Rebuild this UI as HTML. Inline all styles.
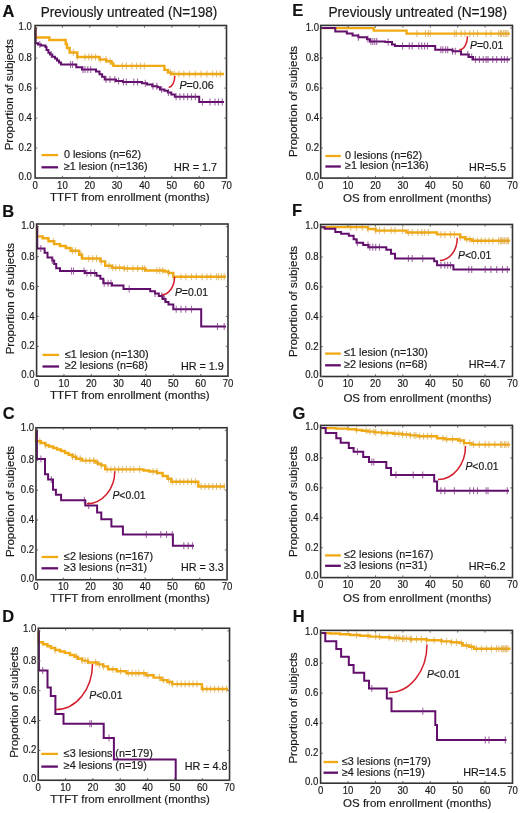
<!DOCTYPE html><html><head><meta charset="utf-8"><style>html,body{margin:0;padding:0;background:#fff;}svg{display:block;filter:blur(0.35px);}text{font-family:"Liberation Sans", sans-serif;stroke:#1a1a1a;stroke-width:0.18px;}</style></head><body>
<svg width="520" height="813" viewBox="0 0 520 813">
<rect width="520" height="813" fill="#fff"/>
<g><path d="M35.1 28.2H35.6V37.5H49.4V40H65.7V44H67V48H69.6V52.5H77.3V57H99.5V59.5H106.4V61.2H111.6V63.5H113.4V65.9H164.4V69.9H167.9V72.5H171.3V74H224" fill="none" stroke="#F2AA12" stroke-width="2.4" stroke-linejoin="miter"/><path d="M35.1 28.2H35.6V43.2H38V44.5H41V45.5H45.5V47H46.5V50H48.4V52.8H50V54.5H52.3V56.7H55V58.5H57V60.5H59V62.5H61V64.4H76.3V67.3H82V69.4H96V71.6H99.5V74.2H102.1V76.8H104.7V79.4H116V81.1H122.9V82H141.9V83.2H147.1V84.6H152.3V86.3H157.5V87.2H160V89.4H164.4V90.7H167.9V92.4H171.3V94.6H174.8V96.7H199.2V101.9H224" fill="none" stroke="#620E6C" stroke-width="2.0" stroke-linejoin="miter"/><path d="M73.4 49v7M77.3 53.5v7M85 53.5v7M88.8 53.5v7M91.7 53.5v7M95.5 53.5v7M100.3 56v7M106 56v7M110 57.7v7M122.5 62.4v7M126.3 62.4v7M131.8 62.4v7M136.7 62.4v7M140.5 62.4v7M144.3 62.4v7M170.3 69v7M174.2 70.5v7M179 70.5v7M183.8 70.5v7M189.5 70.5v7M195.3 70.5v7M201 70.5v7M206.8 70.5v7M212.6 70.5v7M216.5 70.5v7M220.3 70.5v7" stroke="rgba(215,160,60,0.65)" stroke-width="1.1"/><path d="M39.8 41v7M51.3 51v7M70.5 60.9v7M72.5 60.9v7M83 65.9v7M85 65.9v7M87.8 65.9v7M90.7 65.9v7M106.1 75.9v7M110 75.9v7M114.8 75.9v7M118.6 77.6v7M123.4 78.5v7M126.3 78.5v7M133.8 78.5v7M137.6 78.5v7M145.3 79.7v7M153 82.8v7M156.8 82.8v7M161.7 85.9v7M168.4 88.9v7M176.1 93.2v7M179.9 93.2v7M183.8 93.2v7M187.6 93.2v7M191.5 93.2v7M195.3 93.2v7M202.5 98.4v7M210 98.4v7M215 98.4v7M218.4 98.4v7M222.2 98.4v7" stroke="rgba(120,40,125,0.7)" stroke-width="1.1"/><path d="M174.8 76A6.1 11.2 0 0 1 168.7 87.2" fill="none" stroke="#D41E2E" stroke-width="1.5"/><rect x="35.1" y="25.5" width="191.4" height="152.5" fill="none" stroke="#333" stroke-width="1.6"/><path d="M62.44 178v-2.2M62.44 25.5v2.2M89.79 178v-2.2M89.79 25.5v2.2M117.13 178v-2.2M117.13 25.5v2.2M144.47 178v-2.2M144.47 25.5v2.2M171.81 178v-2.2M171.81 25.5v2.2M199.16 178v-2.2M199.16 25.5v2.2M35.1 178h2.2M226.5 178h-2.2M35.1 148.04h2.2M226.5 148.04h-2.2M35.1 118.08h2.2M226.5 118.08h-2.2M35.1 88.12h2.2M226.5 88.12h-2.2M35.1 58.16h2.2M226.5 58.16h-2.2M35.1 28.2h2.2M226.5 28.2h-2.2" stroke="#555" stroke-width="0.9"/><text transform="translate(31.9 179.8) scale(0.915 1)" font-size="10.5" text-anchor="end" fill="#1a1a1a">0.0</text><text transform="translate(31.9 151.14) scale(0.915 1)" font-size="10.5" text-anchor="end" fill="#1a1a1a">0.2</text><text transform="translate(31.9 121.18) scale(0.915 1)" font-size="10.5" text-anchor="end" fill="#1a1a1a">0.4</text><text transform="translate(31.9 91.22) scale(0.915 1)" font-size="10.5" text-anchor="end" fill="#1a1a1a">0.6</text><text transform="translate(31.9 61.26) scale(0.915 1)" font-size="10.5" text-anchor="end" fill="#1a1a1a">0.8</text><text transform="translate(31.9 30.2) scale(0.915 1)" font-size="10.5" text-anchor="end" fill="#1a1a1a">1.0</text><text transform="translate(35.1 188.6) scale(0.915 1)" font-size="10.5" text-anchor="middle" fill="#1a1a1a">0</text><text transform="translate(62.44 188.6) scale(0.915 1)" font-size="10.5" text-anchor="middle" fill="#1a1a1a">10</text><text transform="translate(89.79 188.6) scale(0.915 1)" font-size="10.5" text-anchor="middle" fill="#1a1a1a">20</text><text transform="translate(117.13 188.6) scale(0.915 1)" font-size="10.5" text-anchor="middle" fill="#1a1a1a">30</text><text transform="translate(144.47 188.6) scale(0.915 1)" font-size="10.5" text-anchor="middle" fill="#1a1a1a">40</text><text transform="translate(171.81 188.6) scale(0.915 1)" font-size="10.5" text-anchor="middle" fill="#1a1a1a">50</text><text transform="translate(199.16 188.6) scale(0.915 1)" font-size="10.5" text-anchor="middle" fill="#1a1a1a">60</text><text transform="translate(226.5 188.6) scale(0.915 1)" font-size="10.5" text-anchor="middle" fill="#1a1a1a">70</text><path d="M41.5 155.1H58.1" stroke="#F2AA12" stroke-width="2.3"/><path d="M41.5 167.3H58.1" stroke="#620E6C" stroke-width="2.3"/><text x="63.9" y="157.8" font-size="10.8" fill="#1a1a1a">0 lesions (n=62)</text><text x="63.9" y="170" font-size="10.8" fill="#1a1a1a">≥1 lesion (n=136)</text><text x="217" y="171.2" font-size="10.8" text-anchor="end" fill="#1a1a1a">HR = 1.7</text><text x="179.4" y="88.6" font-size="10.75" fill="#1a1a1a"><tspan font-style="italic">P</tspan>=0.06</text><text x="0" y="0" font-size="11.5" text-anchor="middle" fill="#1a1a1a" transform="translate(8.6 94.7) rotate(-90)" dy="4">Proportion of subjects</text><text x="50.1" y="201" font-size="11.5" fill="#1a1a1a">TTFT from enrollment (months)</text><text x="2.4" y="16.9" font-size="16.5" font-weight="bold" fill="#111">A</text></g>
<g><path d="M36.6 226.7H37V236.4H42.7V238.3H48.5V241.2H54.2V244.1H60V246H65.8V248H70.6V250.8H79.2V254.7H82.1V258.5H100.4V261.4H105.2V265.8H112V267.8H123.5V268.5H145.4V270.5H164.6V271.5H168.5V273H173.3V276.8H226" fill="none" stroke="#F2AA12" stroke-width="2.4" stroke-linejoin="miter"/><path d="M36.6 226.7H37.2V248.5H44.6V252.8H47.5V257.6H52.3V260.5H54.2V264H56.2V268.2H60V271H85V273H96.5V275.8H100.4V278.7H103.3V283.2H112V285.5H123.5V289H150.2V291.2H155V293.5H158.8V296H162.7V299H165.6V302H168.5V304.4H173.3V309.2H201.2V326.5H226" fill="none" stroke="#620E6C" stroke-width="2.0" stroke-linejoin="miter"/><path d="M53.3 237.7v7M72.5 247.3v7M75.4 247.3v7M81.2 251.2v7M88.8 255v7M92.7 255v7M96.5 255v7M101.3 257.9v7M109 262.3v7M112.9 264.3v7M115.8 264.3v7M119.6 264.3v7M124.4 265v7M127.3 265v7M132.9 265v7M137.7 265v7M142.5 265v7M144.4 265v7M156.9 267v7M159.8 267v7M162.7 267v7M168.5 269.5v7M173.3 273.3v7M181 273.3v7M185.8 273.3v7M191.5 273.3v7M196.3 273.3v7M202.1 273.3v7M206.9 273.3v7M210.8 273.3v7M216.5 273.3v7M218.5 273.3v7M221.3 273.3v7M224.2 273.3v7" stroke="rgba(215,160,60,0.65)" stroke-width="1.1"/><path d="M40.8 245v7M52.3 257v7M71.5 267.5v7M73.5 267.5v7M84 267.5v7M86.9 269.5v7M90.8 269.5v7M94.6 269.5v7M104.2 279.7v7M108.1 279.7v7M111 279.7v7M129.2 285.5v7M155 290v7M161.7 292.5v7M164.6 295.5v7M176.2 305.7v7M181 305.7v7M185.8 305.7v7M191.5 305.7v7M217.5 323v7M224.2 323v7" stroke="rgba(120,40,125,0.7)" stroke-width="1.1"/><path d="M174.6 276.8A12.9 17.9 0 0 1 161.7 294.7" fill="none" stroke="#D41E2E" stroke-width="1.5"/><rect x="36.6" y="224" width="191.4" height="152.2" fill="none" stroke="#333" stroke-width="1.6"/><path d="M63.94 376.2v-2.2M63.94 224v2.2M91.29 376.2v-2.2M91.29 224v2.2M118.63 376.2v-2.2M118.63 224v2.2M145.97 376.2v-2.2M145.97 224v2.2M173.31 376.2v-2.2M173.31 224v2.2M200.66 376.2v-2.2M200.66 224v2.2M36.6 376.2h2.2M228 376.2h-2.2M36.6 346.3h2.2M228 346.3h-2.2M36.6 316.4h2.2M228 316.4h-2.2M36.6 286.5h2.2M228 286.5h-2.2M36.6 256.6h2.2M228 256.6h-2.2M36.6 226.7h2.2M228 226.7h-2.2" stroke="#555" stroke-width="0.9"/><text transform="translate(34.6 378) scale(0.915 1)" font-size="10.5" text-anchor="end" fill="#1a1a1a">0.0</text><text transform="translate(34.6 349.4) scale(0.915 1)" font-size="10.5" text-anchor="end" fill="#1a1a1a">0.2</text><text transform="translate(34.6 319.5) scale(0.915 1)" font-size="10.5" text-anchor="end" fill="#1a1a1a">0.4</text><text transform="translate(34.6 289.6) scale(0.915 1)" font-size="10.5" text-anchor="end" fill="#1a1a1a">0.6</text><text transform="translate(34.6 259.7) scale(0.915 1)" font-size="10.5" text-anchor="end" fill="#1a1a1a">0.8</text><text transform="translate(34.6 228.5) scale(0.915 1)" font-size="10.5" text-anchor="end" fill="#1a1a1a">1.0</text><text transform="translate(36.6 386.8) scale(0.915 1)" font-size="10.5" text-anchor="middle" fill="#1a1a1a">0</text><text transform="translate(63.94 386.8) scale(0.915 1)" font-size="10.5" text-anchor="middle" fill="#1a1a1a">10</text><text transform="translate(91.29 386.8) scale(0.915 1)" font-size="10.5" text-anchor="middle" fill="#1a1a1a">20</text><text transform="translate(118.63 386.8) scale(0.915 1)" font-size="10.5" text-anchor="middle" fill="#1a1a1a">30</text><text transform="translate(145.97 386.8) scale(0.915 1)" font-size="10.5" text-anchor="middle" fill="#1a1a1a">40</text><text transform="translate(173.31 386.8) scale(0.915 1)" font-size="10.5" text-anchor="middle" fill="#1a1a1a">50</text><text transform="translate(200.66 386.8) scale(0.915 1)" font-size="10.5" text-anchor="middle" fill="#1a1a1a">60</text><text transform="translate(228 386.8) scale(0.915 1)" font-size="10.5" text-anchor="middle" fill="#1a1a1a">70</text><path d="M42.5 354.9H59.1" stroke="#F2AA12" stroke-width="2.3"/><path d="M42.5 366.5H59.1" stroke="#620E6C" stroke-width="2.3"/><text x="64.9" y="357.6" font-size="10.8" fill="#1a1a1a">≤1 lesion (n=130)</text><text x="64.9" y="369.2" font-size="10.8" fill="#1a1a1a">≥2 lesions (n=68)</text><text x="223.8" y="369.7" font-size="10.8" text-anchor="end" fill="#1a1a1a">HR = 1.9</text><text x="174.9" y="296" font-size="10.4" fill="#1a1a1a"><tspan font-style="italic">P</tspan>=0.01</text><text x="0" y="0" font-size="11.5" text-anchor="middle" fill="#1a1a1a" transform="translate(10.3 298.7) rotate(-90)" dy="4">Proportion of subjects</text><text x="50.1" y="399" font-size="11.5" fill="#1a1a1a">TTFT from enrollment (months)</text><text x="2.3" y="216.9" font-size="16.5" font-weight="bold" fill="#111">B</text></g>
<g><path d="M35.95 430.45H36.1V441.3H41V443H45.5V445.2H49V446.5H53.2V448H57V449.5H61V451H65V453H68.6V454.8H72.5V456.8H76.3V458.7H82V460.6H95.5V462.5H98V464H101.3V465.4H105.2V469.4H143.5V470.5H149.2V471.5H157V473H162.7V476H167.5V478.8H171.3V481.7H198.3V486.5H225" fill="none" stroke="#F2AA12" stroke-width="2.4" stroke-linejoin="miter"/><path d="M35.95 430.45H36.9V459H45V474.2H48.1V479.4H53V489.8H55.9V494.8H61.1V500.2H85.3V505.6H97.1V512.5H101.3V519.2H111.4V526.4H122.9V534.4H172.9V545.8H194" fill="none" stroke="#620E6C" stroke-width="2.0" stroke-linejoin="miter"/><path d="M39.8 437.8v7M45.5 441.7v7M72.5 453.3v7M75.3 453.3v7M80.2 455.2v7M85.9 457.1v7M89.8 457.1v7M93.6 457.1v7M97.5 459v7M101.3 461.9v7M107.1 465.9v7M110.9 465.9v7M114.8 465.9v7M118.6 465.9v7M122.5 465.9v7M126.3 465.9v7M130.2 465.9v7M133.8 465.9v7M139.6 465.9v7M153.1 468v7M156.9 468v7M168.5 475.3v7M172.3 478.2v7M176.2 478.2v7M180 478.2v7M183.8 478.2v7M187.7 478.2v7M191.5 478.2v7M195.4 478.2v7M201.2 483v7M205 483v7M208.8 483v7M212.7 483v7M216.5 483v7M220.4 483v7M224.2 483v7" stroke="rgba(215,160,60,0.65)" stroke-width="1.1"/><path d="M40.9 455.5v7M51.3 475.9v7M84.3 496.7v7M88.7 502.1v7M146.3 530.9v7M160.8 530.9v7M166.5 530.9v7M172.3 530.9v7M183.8 542.3v7M188.2 542.3v7M192.5 542.3v7" stroke="rgba(120,40,125,0.7)" stroke-width="1.1"/><path d="M114.8 471.2A27.9 32.5 0 0 1 86.9 503.7" fill="none" stroke="#D41E2E" stroke-width="1.5"/><rect x="35.95" y="427.75" width="191.1" height="152" fill="none" stroke="#333" stroke-width="1.6"/><path d="M63.25 579.75v-2.2M63.25 427.75v2.2M90.55 579.75v-2.2M90.55 427.75v2.2M117.85 579.75v-2.2M117.85 427.75v2.2M145.15 579.75v-2.2M145.15 427.75v2.2M172.45 579.75v-2.2M172.45 427.75v2.2M199.75 579.75v-2.2M199.75 427.75v2.2M35.95 579.75h2.2M227.05 579.75h-2.2M35.95 549.89h2.2M227.05 549.89h-2.2M35.95 520.03h2.2M227.05 520.03h-2.2M35.95 490.17h2.2M227.05 490.17h-2.2M35.95 460.31h2.2M227.05 460.31h-2.2M35.95 430.45h2.2M227.05 430.45h-2.2" stroke="#555" stroke-width="0.9"/><text transform="translate(34.15 581.55) scale(0.915 1)" font-size="10.5" text-anchor="end" fill="#1a1a1a">0.0</text><text transform="translate(34.15 552.99) scale(0.915 1)" font-size="10.5" text-anchor="end" fill="#1a1a1a">0.2</text><text transform="translate(34.15 523.13) scale(0.915 1)" font-size="10.5" text-anchor="end" fill="#1a1a1a">0.4</text><text transform="translate(34.15 493.27) scale(0.915 1)" font-size="10.5" text-anchor="end" fill="#1a1a1a">0.6</text><text transform="translate(34.15 463.41) scale(0.915 1)" font-size="10.5" text-anchor="end" fill="#1a1a1a">0.8</text><text transform="translate(34.15 430.6) scale(0.915 1)" font-size="10.5" text-anchor="end" fill="#1a1a1a">1.0</text><text transform="translate(35.95 590.35) scale(0.915 1)" font-size="10.5" text-anchor="middle" fill="#1a1a1a">0</text><text transform="translate(63.25 590.35) scale(0.915 1)" font-size="10.5" text-anchor="middle" fill="#1a1a1a">10</text><text transform="translate(90.55 590.35) scale(0.915 1)" font-size="10.5" text-anchor="middle" fill="#1a1a1a">20</text><text transform="translate(117.85 590.35) scale(0.915 1)" font-size="10.5" text-anchor="middle" fill="#1a1a1a">30</text><text transform="translate(145.15 590.35) scale(0.915 1)" font-size="10.5" text-anchor="middle" fill="#1a1a1a">40</text><text transform="translate(172.45 590.35) scale(0.915 1)" font-size="10.5" text-anchor="middle" fill="#1a1a1a">50</text><text transform="translate(199.75 590.35) scale(0.915 1)" font-size="10.5" text-anchor="middle" fill="#1a1a1a">60</text><text transform="translate(227.05 590.35) scale(0.915 1)" font-size="10.5" text-anchor="middle" fill="#1a1a1a">70</text><path d="M41.5 557H58.1" stroke="#F2AA12" stroke-width="2.3"/><path d="M41.5 568.3H58.1" stroke="#620E6C" stroke-width="2.3"/><text x="64" y="559.7" font-size="10.8" fill="#1a1a1a">≤2 lesions (n=167)</text><text x="64" y="571" font-size="10.8" fill="#1a1a1a">≥3 lesions (n=31)</text><text x="223.9" y="571.3" font-size="10.8" text-anchor="end" fill="#1a1a1a">HR = 3.3</text><text x="112.4" y="499.3" font-size="10.4" fill="#1a1a1a"><tspan font-style="italic">P</tspan>&lt;0.01</text><text x="0" y="0" font-size="11.5" text-anchor="middle" fill="#1a1a1a" transform="translate(9.8 501.5) rotate(-90)" dy="4">Proportion of subjects</text><text x="50.2" y="602.3" font-size="11.5" fill="#1a1a1a">TTFT from enrollment (months)</text><text x="2.8" y="418.9" font-size="16.5" font-weight="bold" fill="#111">C</text></g>
<g><path d="M38.25 630.95H38.7V642.3H43V644.2H47.5V646.2H51V648H55.2V650H60V651.5H64.8V652.9H70V655H74.5V656.8H78V658.7H82.2V660.6H88V662.5H97.5V664.4H103.3V666.4H108.1V669.3H116.8V671.2H126.4V673.2H145.7V675.2H153.6V677.6H161.5V680.1H167.4V682H172.3V684.1H201.9V689H228" fill="none" stroke="#F2AA12" stroke-width="2.4" stroke-linejoin="miter"/><path d="M38.25 630.95H38.9V670.4H47.5V687.5H50.8V696H55.4V714H63.5V723.7H103.7V738.1H113.9V759.4H175.7V780.4" fill="none" stroke="#620E6C" stroke-width="2.0" stroke-linejoin="miter"/><path d="M55.2 646.5v7M76.4 653.3v7M82.2 657.1v7M85 657.1v7M87.9 657.1v7M95.6 659v7M99.5 660.9v7M103.3 662.9v7M112.9 665.8v7M120.6 667.7v7M128.3 669.7v7M132.2 669.7v7M135.9 669.7v7M138.9 669.7v7M143.8 669.7v7M147.7 671.7v7M159.5 674.1v7M163.5 676.6v7M169.4 678.5v7M172.3 680.6v7M177.2 680.6v7M181.2 680.6v7M185.1 680.6v7M189.1 680.6v7M193 680.6v7M196.9 680.6v7M202.8 685.5v7M206.8 685.5v7M210.7 685.5v7M214.6 685.5v7M218.6 685.5v7M222.5 685.5v7M226.5 685.5v7" stroke="rgba(215,160,60,0.65)" stroke-width="1.1"/><path d="M42.7 666.9v7M89.8 720.2v7M91.5 720.2v7M109 734.6v7" stroke="rgba(120,40,125,0.7)" stroke-width="1.1"/><path d="M92.5 664A36.7 45.6 0 0 1 55.8 709.6" fill="none" stroke="#D41E2E" stroke-width="1.5"/><rect x="38.25" y="628.25" width="191.3" height="152" fill="none" stroke="#333" stroke-width="1.6"/><path d="M65.58 780.25v-2.2M65.58 628.25v2.2M92.91 780.25v-2.2M92.91 628.25v2.2M120.24 780.25v-2.2M120.24 628.25v2.2M147.56 780.25v-2.2M147.56 628.25v2.2M174.89 780.25v-2.2M174.89 628.25v2.2M202.22 780.25v-2.2M202.22 628.25v2.2M38.25 780.25h2.2M229.55 780.25h-2.2M38.25 750.39h2.2M229.55 750.39h-2.2M38.25 720.53h2.2M229.55 720.53h-2.2M38.25 690.67h2.2M229.55 690.67h-2.2M38.25 660.81h2.2M229.55 660.81h-2.2M38.25 630.95h2.2M229.55 630.95h-2.2" stroke="#555" stroke-width="0.9"/><text transform="translate(36.25 782.05) scale(0.915 1)" font-size="10.5" text-anchor="end" fill="#1a1a1a">0.0</text><text transform="translate(36.25 753.49) scale(0.915 1)" font-size="10.5" text-anchor="end" fill="#1a1a1a">0.2</text><text transform="translate(36.25 723.63) scale(0.915 1)" font-size="10.5" text-anchor="end" fill="#1a1a1a">0.4</text><text transform="translate(36.25 693.77) scale(0.915 1)" font-size="10.5" text-anchor="end" fill="#1a1a1a">0.6</text><text transform="translate(36.25 663.91) scale(0.915 1)" font-size="10.5" text-anchor="end" fill="#1a1a1a">0.8</text><text transform="translate(36.25 631.8) scale(0.915 1)" font-size="10.5" text-anchor="end" fill="#1a1a1a">1.0</text><text transform="translate(38.25 790.85) scale(0.915 1)" font-size="10.5" text-anchor="middle" fill="#1a1a1a">0</text><text transform="translate(65.58 790.85) scale(0.915 1)" font-size="10.5" text-anchor="middle" fill="#1a1a1a">10</text><text transform="translate(92.91 790.85) scale(0.915 1)" font-size="10.5" text-anchor="middle" fill="#1a1a1a">20</text><text transform="translate(120.24 790.85) scale(0.915 1)" font-size="10.5" text-anchor="middle" fill="#1a1a1a">30</text><text transform="translate(147.56 790.85) scale(0.915 1)" font-size="10.5" text-anchor="middle" fill="#1a1a1a">40</text><text transform="translate(174.89 790.85) scale(0.915 1)" font-size="10.5" text-anchor="middle" fill="#1a1a1a">50</text><text transform="translate(202.22 790.85) scale(0.915 1)" font-size="10.5" text-anchor="middle" fill="#1a1a1a">60</text><text transform="translate(229.55 790.85) scale(0.915 1)" font-size="10.5" text-anchor="middle" fill="#1a1a1a">70</text><path d="M41.3 753.9H57.9" stroke="#F2AA12" stroke-width="2.3"/><path d="M41.3 766.6H57.9" stroke="#620E6C" stroke-width="2.3"/><text x="63.8" y="756.6" font-size="10.8" fill="#1a1a1a">≤3 lesions (n=179)</text><text x="63.8" y="769.3" font-size="10.8" fill="#1a1a1a">≥4 lesions (n=19)</text><text x="227.6" y="770.2" font-size="10.8" text-anchor="end" fill="#1a1a1a">HR = 4.8</text><text x="89.2" y="699.4" font-size="10.4" fill="#1a1a1a"><tspan font-style="italic">P</tspan>&lt;0.01</text><text x="0" y="0" font-size="11.5" text-anchor="middle" fill="#1a1a1a" transform="translate(13.6 702.2) rotate(-90)" dy="4">Proportion of subjects</text><text x="50.2" y="802.9" font-size="11.5" fill="#1a1a1a">TTFT from enrollment (months)</text><text x="2.3" y="621.8" font-size="16.5" font-weight="bold" fill="#111">D</text></g>
<g><path d="M320.7 28.1H373.8V30.6H406.5V33.6H510" fill="none" stroke="#F2AA12" stroke-width="2.4" stroke-linejoin="miter"/><path d="M320.7 28.1H335.3V31.5H346.8V33.5H352.6V35.4H358.4V37.3H367V39.2H370V41.5H385.3V42.1H392V44.6H394.9V46H435.2V49.8H452.5V51.2H461V54.4H468.8V56.9H473V59.4H510" fill="none" stroke="#620E6C" stroke-width="2.0" stroke-linejoin="miter"/><path d="M416.9 30.1v7M425.5 30.1v7M428.4 30.1v7M430.3 30.1v7M454.4 30.1v7M456.3 30.1v7M461.1 30.1v7M465 30.1v7M469.8 30.1v7M473.6 30.1v7M477.5 30.1v7M486.1 30.1v7M490.9 30.1v7M498.6 30.1v7M500.5 30.1v7M501.5 30.1v7M503.4 30.1v7M505 30.1v7M506.3 30.1v7M508 30.1v7" stroke="rgba(215,160,60,0.65)" stroke-width="1.1"/><path d="M358.4 33.8v7M368 35.7v7M370.9 38v7M372.8 38v7M374.7 38v7M376.7 38v7M388.2 38.6v7M402.6 42.5v7M409.3 42.5v7M412.2 42.5v7M418.8 42.5v7M421.7 42.5v7M424.6 42.5v7M427.5 42.5v7M440.9 46.3v7M442.8 46.3v7M445.7 46.3v7M447.7 46.3v7M452.5 47.7v7M455.3 47.7v7M467.8 50.9v7M471.7 53.4v7M475.5 55.9v7M479.4 55.9v7M483.2 55.9v7M486.1 55.9v7M488 55.9v7M492.8 55.9v7M496.7 55.9v7M501.5 55.9v7M504.4 55.9v7M507.3 55.9v7" stroke="rgba(120,40,125,0.7)" stroke-width="1.1"/><path d="M467.5 36.3A8.3 13.5 0 0 1 459.2 49.8" fill="none" stroke="#D41E2E" stroke-width="1.5"/><rect x="320.7" y="25.4" width="191.8" height="152.7" fill="none" stroke="#333" stroke-width="1.6"/><path d="M348.1 178.1v-2.2M348.1 25.4v2.2M375.5 178.1v-2.2M375.5 25.4v2.2M402.9 178.1v-2.2M402.9 25.4v2.2M430.3 178.1v-2.2M430.3 25.4v2.2M457.7 178.1v-2.2M457.7 25.4v2.2M485.1 178.1v-2.2M485.1 25.4v2.2M320.7 178.1h2.2M512.5 178.1h-2.2M320.7 148.1h2.2M512.5 148.1h-2.2M320.7 118.1h2.2M512.5 118.1h-2.2M320.7 88.1h2.2M512.5 88.1h-2.2M320.7 58.1h2.2M512.5 58.1h-2.2M320.7 28.1h2.2M512.5 28.1h-2.2" stroke="#555" stroke-width="0.9"/><text transform="translate(319 179.9) scale(0.915 1)" font-size="10.5" text-anchor="end" fill="#1a1a1a">0.0</text><text transform="translate(319 151.2) scale(0.915 1)" font-size="10.5" text-anchor="end" fill="#1a1a1a">0.2</text><text transform="translate(319 121.2) scale(0.915 1)" font-size="10.5" text-anchor="end" fill="#1a1a1a">0.4</text><text transform="translate(319 91.2) scale(0.915 1)" font-size="10.5" text-anchor="end" fill="#1a1a1a">0.6</text><text transform="translate(319 61.2) scale(0.915 1)" font-size="10.5" text-anchor="end" fill="#1a1a1a">0.8</text><text transform="translate(319 31.1) scale(0.915 1)" font-size="10.5" text-anchor="end" fill="#1a1a1a">1.0</text><text transform="translate(320.7 188.7) scale(0.915 1)" font-size="10.5" text-anchor="middle" fill="#1a1a1a">0</text><text transform="translate(348.1 188.7) scale(0.915 1)" font-size="10.5" text-anchor="middle" fill="#1a1a1a">10</text><text transform="translate(375.5 188.7) scale(0.915 1)" font-size="10.5" text-anchor="middle" fill="#1a1a1a">20</text><text transform="translate(402.9 188.7) scale(0.915 1)" font-size="10.5" text-anchor="middle" fill="#1a1a1a">30</text><text transform="translate(430.3 188.7) scale(0.915 1)" font-size="10.5" text-anchor="middle" fill="#1a1a1a">40</text><text transform="translate(457.7 188.7) scale(0.915 1)" font-size="10.5" text-anchor="middle" fill="#1a1a1a">50</text><text transform="translate(485.1 188.7) scale(0.915 1)" font-size="10.5" text-anchor="middle" fill="#1a1a1a">60</text><text transform="translate(512.5 188.7) scale(0.915 1)" font-size="10.5" text-anchor="middle" fill="#1a1a1a">70</text><path d="M325.4 156H340.8" stroke="#F2AA12" stroke-width="2.3"/><path d="M325.4 166.5H340.8" stroke="#620E6C" stroke-width="2.3"/><text x="345" y="158.7" font-size="10.8" fill="#1a1a1a">0 lesions (n=62)</text><text x="345" y="169.2" font-size="10.8" fill="#1a1a1a">≥1 lesion (n=136)</text><text x="506" y="171.1" font-size="10.8" text-anchor="end" fill="#1a1a1a">HR=5.5</text><text x="470.1" y="49.3" font-size="10.4" fill="#1a1a1a"><tspan font-style="italic">P</tspan>=0.01</text><text x="0" y="0" font-size="11.5" text-anchor="middle" fill="#1a1a1a" transform="translate(292.5 101.5) rotate(-90)" dy="4">Proportion of subjects</text><text x="343.1" y="201.9" font-size="11.5" fill="#1a1a1a">OS from enrollment (months)</text><text x="292.3" y="16.4" font-size="16.5" font-weight="bold" fill="#111">E</text></g>
<g><path d="M320.6 227.15H368V229H375.7V230.6H406.5V232.5H437V234.4H460.2V237.3H465V239.2H471.7V240.8H510" fill="none" stroke="#F2AA12" stroke-width="2.4" stroke-linejoin="miter"/><path d="M320.6 227.15H324.7V228.7H335.3V231.9H341.1V233.8H348.8V235.8H353.6V239.2H356.5V242.7H363.2V245H368.4V247.3H386.3V249.8H391V253.7H395V258.5H434.2V261.3H437.1V265.2H453.4V269.6H510" fill="none" stroke="#620E6C" stroke-width="2.0" stroke-linejoin="miter"/><path d="M350.7 223.65v7M356.5 223.65v7M362.2 223.65v7M368 225.5v7M375.7 227.1v7M379.5 227.1v7M384.3 227.1v7M391.1 227.1v7M394.9 227.1v7M402.6 227.1v7M408.4 229v7M412.2 229v7M417.8 229v7M421.7 229v7M424.6 229v7M428.4 229v7M440.9 230.9v7M444.8 230.9v7M450.5 230.9v7M454.4 230.9v7M460.2 233.8v7M466.9 235.7v7M469.8 235.7v7M473.6 237.3v7M477.5 237.3v7M481.3 237.3v7M485.2 237.3v7M489 237.3v7M492.8 237.3v7M498.6 237.3v7M500.5 237.3v7M501.5 237.3v7M503 237.3v7M504.4 237.3v7M506 237.3v7M507.3 237.3v7M508.5 237.3v7" stroke="rgba(215,160,60,0.65)" stroke-width="1.1"/><path d="M357.4 239.2v7M368 241.5v7M369.9 243.8v7M372.8 243.8v7M375.7 243.8v7M379.5 243.8v7M408.4 255v7M412.2 255v7M422.7 255v7M440.9 261.7v7M444.8 261.7v7M447.7 261.7v7M450.5 261.7v7M468.8 266.1v7M471.7 266.1v7M485.2 266.1v7M490.9 266.1v7M496.7 266.1v7M502.5 266.1v7M507.3 266.1v7" stroke="rgba(120,40,125,0.7)" stroke-width="1.1"/><path d="M457.3 237.7A17.3 22.7 0 0 1 440 260.4" fill="none" stroke="#D41E2E" stroke-width="1.5"/><rect x="320.6" y="224.45" width="191.9" height="152.05" fill="none" stroke="#333" stroke-width="1.6"/><path d="M348.01 376.5v-2.2M348.01 224.45v2.2M375.43 376.5v-2.2M375.43 224.45v2.2M402.84 376.5v-2.2M402.84 224.45v2.2M430.26 376.5v-2.2M430.26 224.45v2.2M457.67 376.5v-2.2M457.67 224.45v2.2M485.09 376.5v-2.2M485.09 224.45v2.2M320.6 376.5h2.2M512.5 376.5h-2.2M320.6 346.63h2.2M512.5 346.63h-2.2M320.6 316.76h2.2M512.5 316.76h-2.2M320.6 286.89h2.2M512.5 286.89h-2.2M320.6 257.02h2.2M512.5 257.02h-2.2M320.6 227.15h2.2M512.5 227.15h-2.2" stroke="#555" stroke-width="0.9"/><text transform="translate(318.6 378.3) scale(0.915 1)" font-size="10.5" text-anchor="end" fill="#1a1a1a">0.0</text><text transform="translate(318.6 349.73) scale(0.915 1)" font-size="10.5" text-anchor="end" fill="#1a1a1a">0.2</text><text transform="translate(318.6 319.86) scale(0.915 1)" font-size="10.5" text-anchor="end" fill="#1a1a1a">0.4</text><text transform="translate(318.6 289.99) scale(0.915 1)" font-size="10.5" text-anchor="end" fill="#1a1a1a">0.6</text><text transform="translate(318.6 260.12) scale(0.915 1)" font-size="10.5" text-anchor="end" fill="#1a1a1a">0.8</text><text transform="translate(318.6 229.4) scale(0.915 1)" font-size="10.5" text-anchor="end" fill="#1a1a1a">1.0</text><text transform="translate(320.6 387.1) scale(0.915 1)" font-size="10.5" text-anchor="middle" fill="#1a1a1a">0</text><text transform="translate(348.01 387.1) scale(0.915 1)" font-size="10.5" text-anchor="middle" fill="#1a1a1a">10</text><text transform="translate(375.43 387.1) scale(0.915 1)" font-size="10.5" text-anchor="middle" fill="#1a1a1a">20</text><text transform="translate(402.84 387.1) scale(0.915 1)" font-size="10.5" text-anchor="middle" fill="#1a1a1a">30</text><text transform="translate(430.26 387.1) scale(0.915 1)" font-size="10.5" text-anchor="middle" fill="#1a1a1a">40</text><text transform="translate(457.67 387.1) scale(0.915 1)" font-size="10.5" text-anchor="middle" fill="#1a1a1a">50</text><text transform="translate(485.09 387.1) scale(0.915 1)" font-size="10.5" text-anchor="middle" fill="#1a1a1a">60</text><text transform="translate(512.5 387.1) scale(0.915 1)" font-size="10.5" text-anchor="middle" fill="#1a1a1a">70</text><path d="M325.1 353.6H340.8" stroke="#F2AA12" stroke-width="2.3"/><path d="M325.1 365.3H340.8" stroke="#620E6C" stroke-width="2.3"/><text x="344.2" y="356.3" font-size="10.8" fill="#1a1a1a">≤1 lesion (n=130)</text><text x="344.2" y="368" font-size="10.8" fill="#1a1a1a">≥2 lesions (n=68)</text><text x="505.6" y="368.2" font-size="10.8" text-anchor="end" fill="#1a1a1a">HR=4.7</text><text x="458.1" y="259" font-size="10.4" fill="#1a1a1a"><tspan font-style="italic">P</tspan>&lt;0.01</text><text x="0" y="0" font-size="11.5" text-anchor="middle" fill="#1a1a1a" transform="translate(292.8 301.5) rotate(-90)" dy="4">Proportion of subjects</text><text x="343.4" y="401.5" font-size="11.5" fill="#1a1a1a">OS from enrollment (months)</text><text x="292" y="216.4" font-size="16.5" font-weight="bold" fill="#111">F</text></g>
<g><path d="M320.6 428.1H336V428.6H348V429.3H356V430H362V430.8H368V431.6H375V432.4H383V433H393V433.7H402V434.5H410V435.4H418V436.2H437.1V438.3H444.8V439.3H458.2V440.5H464V443.1H471.7V444.6H510" fill="none" stroke="#F2AA12" stroke-width="2.4" stroke-linejoin="miter"/><path d="M320.6 428.1H325.7V433.1H336.3V438.3H340.7V442.7H348.8V447.9H353.6V451.7H363.2V456.9H369V461.9H386.3V468.1H391V475H434.2V481.5H437.1V490.8H509" fill="none" stroke="#620E6C" stroke-width="2.0" stroke-linejoin="miter"/><path d="M356.5 426.5v7M366.1 427.3v7M369.9 428.1v7M373.8 428.1v7M375.7 428.9v7M381.5 428.9v7M387.2 429.5v7M394.9 430.2v7M398.8 430.2v7M402.6 431v7M406.5 431v7M410.3 431.9v7M414.2 431.9v7M415.9 431.9v7M419.8 432.7v7M423.6 432.7v7M427.5 432.7v7M431.3 432.7v7M442.8 434.8v7M446.7 435.8v7M452.5 435.8v7M460.2 437v7M464 439.6v7M469.8 439.6v7M473.6 441.1v7M479.4 441.1v7M485.2 441.1v7M489 441.1v7M494.8 441.1v7M500.5 441.1v7M502 441.1v7M504.4 441.1v7M506 441.1v7M508.2 441.1v7" stroke="rgba(215,160,60,0.65)" stroke-width="1.1"/><path d="M357.4 448.2v7M371.8 458.4v7M373.8 458.4v7M395.9 471.5v7M413.2 471.5v7M422.7 471.5v7M440.9 487.3v7M444.8 487.3v7M454.4 487.3v7M469.8 487.3v7M473.6 487.3v7M477.5 487.3v7M486.1 487.3v7M488 487.3v7M507.3 487.3v7" stroke="rgba(120,40,125,0.7)" stroke-width="1.1"/><path d="M465.5 446A27.5 33.6 0 0 1 438 479.6" fill="none" stroke="#D41E2E" stroke-width="1.5"/><rect x="320.6" y="425.4" width="191.9" height="152.2" fill="none" stroke="#333" stroke-width="1.6"/><path d="M348.01 577.6v-2.2M348.01 425.4v2.2M375.43 577.6v-2.2M375.43 425.4v2.2M402.84 577.6v-2.2M402.84 425.4v2.2M430.26 577.6v-2.2M430.26 425.4v2.2M457.67 577.6v-2.2M457.67 425.4v2.2M485.09 577.6v-2.2M485.09 425.4v2.2M320.6 577.6h2.2M512.5 577.6h-2.2M320.6 547.7h2.2M512.5 547.7h-2.2M320.6 517.8h2.2M512.5 517.8h-2.2M320.6 487.9h2.2M512.5 487.9h-2.2M320.6 458h2.2M512.5 458h-2.2M320.6 428.1h2.2M512.5 428.1h-2.2" stroke="#555" stroke-width="0.9"/><text transform="translate(318.6 579.4) scale(0.915 1)" font-size="10.5" text-anchor="end" fill="#1a1a1a">0.0</text><text transform="translate(318.6 550.8) scale(0.915 1)" font-size="10.5" text-anchor="end" fill="#1a1a1a">0.2</text><text transform="translate(318.6 520.9) scale(0.915 1)" font-size="10.5" text-anchor="end" fill="#1a1a1a">0.4</text><text transform="translate(318.6 491) scale(0.915 1)" font-size="10.5" text-anchor="end" fill="#1a1a1a">0.6</text><text transform="translate(318.6 461.1) scale(0.915 1)" font-size="10.5" text-anchor="end" fill="#1a1a1a">0.8</text><text transform="translate(318.6 430.1) scale(0.915 1)" font-size="10.5" text-anchor="end" fill="#1a1a1a">1.0</text><text transform="translate(320.6 588.2) scale(0.915 1)" font-size="10.5" text-anchor="middle" fill="#1a1a1a">0</text><text transform="translate(348.01 588.2) scale(0.915 1)" font-size="10.5" text-anchor="middle" fill="#1a1a1a">10</text><text transform="translate(375.43 588.2) scale(0.915 1)" font-size="10.5" text-anchor="middle" fill="#1a1a1a">20</text><text transform="translate(402.84 588.2) scale(0.915 1)" font-size="10.5" text-anchor="middle" fill="#1a1a1a">30</text><text transform="translate(430.26 588.2) scale(0.915 1)" font-size="10.5" text-anchor="middle" fill="#1a1a1a">40</text><text transform="translate(457.67 588.2) scale(0.915 1)" font-size="10.5" text-anchor="middle" fill="#1a1a1a">50</text><text transform="translate(485.09 588.2) scale(0.915 1)" font-size="10.5" text-anchor="middle" fill="#1a1a1a">60</text><text transform="translate(512.5 588.2) scale(0.915 1)" font-size="10.5" text-anchor="middle" fill="#1a1a1a">70</text><path d="M325.1 555.4H340.8" stroke="#F2AA12" stroke-width="2.3"/><path d="M325.1 565.8H340.8" stroke="#620E6C" stroke-width="2.3"/><text x="344.2" y="558.1" font-size="10.8" fill="#1a1a1a">≤2 lesions (n=167)</text><text x="344.2" y="568.5" font-size="10.8" fill="#1a1a1a">≥3 lesions (n=31)</text><text x="505.6" y="569.5" font-size="10.8" text-anchor="end" fill="#1a1a1a">HR=6.2</text><text x="465.4" y="470.1" font-size="10.4" fill="#1a1a1a"><tspan font-style="italic">P</tspan>&lt;0.01</text><text x="0" y="0" font-size="11.5" text-anchor="middle" fill="#1a1a1a" transform="translate(292.8 501.5) rotate(-90)" dy="4">Proportion of subjects</text><text x="343.1" y="601.9" font-size="11.5" fill="#1a1a1a">OS from enrollment (months)</text><text x="292.4" y="419.2" font-size="16.5" font-weight="bold" fill="#111">G</text></g>
<g><path d="M320.6 633.1H330V633.5H340V634.2H350V635H360V635.8H370V636.6H380V637.3H390V638H400V638.6H410V639.2H426.5V640.3H441.5V641.4H451V642.2H459.4V643.1H462.7V645.5H469.2V646.8H474V648.8H510.5" fill="none" stroke="#F2AA12" stroke-width="2.4" stroke-linejoin="miter"/><path d="M320.6 633.1H325.3V641.3H336.3V649H341.1V656.7H348.8V665H353.6V672.7H364.2V680.8H369V688.5H386.8V698.5H391.5V711.3H435.3V725H437V740H506.5" fill="none" stroke="#620E6C" stroke-width="2.0" stroke-linejoin="miter"/><path d="M356.5 631.5v7M368 632.3v7M375.7 633.1v7M379.5 633.1v7M394.9 634.5v7M398.8 634.5v7M402.6 635.1v7M406.5 635.1v7M410.3 635.7v7M389 633.8v7M396.5 634.5v7M404 635.1v7M411.5 635.7v7M416.5 635.7v7M421.5 635.7v7M426.5 636.8v7M434 636.8v7M441.5 637.9v7M446.5 637.9v7M451.5 638.7v7M456.5 638.7v7M461.5 639.6v7M466.5 642v7M471.5 643.3v7M476.5 645.3v7M481.5 645.3v7M486.5 645.3v7M491.5 645.3v7M496.5 645.3v7M499 645.3v7M501.5 645.3v7M503 645.3v7M504 645.3v7M505.5 645.3v7M506.5 645.3v7M508 645.3v7" stroke="rgba(215,160,60,0.65)" stroke-width="1.1"/><path d="M371.8 685v7M422.8 707.8v7M485.3 736.5v7M489 736.5v7M505.3 736.5v7" stroke="rgba(120,40,125,0.7)" stroke-width="1.1"/><path d="M427 644.5A38 48 0 0 1 389 692.5" fill="none" stroke="#D41E2E" stroke-width="1.5"/><rect x="320.6" y="630.4" width="191.9" height="152.8" fill="none" stroke="#333" stroke-width="1.6"/><path d="M348.01 783.2v-2.2M348.01 630.4v2.2M375.43 783.2v-2.2M375.43 630.4v2.2M402.84 783.2v-2.2M402.84 630.4v2.2M430.26 783.2v-2.2M430.26 630.4v2.2M457.67 783.2v-2.2M457.67 630.4v2.2M485.09 783.2v-2.2M485.09 630.4v2.2M320.6 783.2h2.2M512.5 783.2h-2.2M320.6 753.18h2.2M512.5 753.18h-2.2M320.6 723.16h2.2M512.5 723.16h-2.2M320.6 693.14h2.2M512.5 693.14h-2.2M320.6 663.12h2.2M512.5 663.12h-2.2M320.6 633.1h2.2M512.5 633.1h-2.2" stroke="#555" stroke-width="0.9"/><text transform="translate(318.3 785) scale(0.915 1)" font-size="10.5" text-anchor="end" fill="#1a1a1a">0.0</text><text transform="translate(318.3 756.28) scale(0.915 1)" font-size="10.5" text-anchor="end" fill="#1a1a1a">0.2</text><text transform="translate(318.3 726.26) scale(0.915 1)" font-size="10.5" text-anchor="end" fill="#1a1a1a">0.4</text><text transform="translate(318.3 696.24) scale(0.915 1)" font-size="10.5" text-anchor="end" fill="#1a1a1a">0.6</text><text transform="translate(318.3 666.22) scale(0.915 1)" font-size="10.5" text-anchor="end" fill="#1a1a1a">0.8</text><text transform="translate(318.3 635.4) scale(0.915 1)" font-size="10.5" text-anchor="end" fill="#1a1a1a">1.0</text><text transform="translate(320.6 793.8) scale(0.915 1)" font-size="10.5" text-anchor="middle" fill="#1a1a1a">0</text><text transform="translate(348.01 793.8) scale(0.915 1)" font-size="10.5" text-anchor="middle" fill="#1a1a1a">10</text><text transform="translate(375.43 793.8) scale(0.915 1)" font-size="10.5" text-anchor="middle" fill="#1a1a1a">20</text><text transform="translate(402.84 793.8) scale(0.915 1)" font-size="10.5" text-anchor="middle" fill="#1a1a1a">30</text><text transform="translate(430.26 793.8) scale(0.915 1)" font-size="10.5" text-anchor="middle" fill="#1a1a1a">40</text><text transform="translate(457.67 793.8) scale(0.915 1)" font-size="10.5" text-anchor="middle" fill="#1a1a1a">50</text><text transform="translate(485.09 793.8) scale(0.915 1)" font-size="10.5" text-anchor="middle" fill="#1a1a1a">60</text><text transform="translate(512.5 793.8) scale(0.915 1)" font-size="10.5" text-anchor="middle" fill="#1a1a1a">70</text><path d="M323.5 762H338" stroke="#F2AA12" stroke-width="2.3"/><path d="M323.5 772.7H338" stroke="#620E6C" stroke-width="2.3"/><text x="341.9" y="764.7" font-size="10.8" fill="#1a1a1a">≤3 lesions (n=179)</text><text x="341.9" y="776.2" font-size="10.8" fill="#1a1a1a">≥4 lesions (n=19)</text><text x="506.1" y="775.5" font-size="10.8" text-anchor="end" fill="#1a1a1a">HR=14.5</text><text x="426.9" y="678" font-size="10.4" fill="#1a1a1a"><tspan font-style="italic">P</tspan>&lt;0.01</text><text x="0" y="0" font-size="11.5" text-anchor="middle" fill="#1a1a1a" transform="translate(293.1 708) rotate(-90)" dy="4">Proportion of subjects</text><text x="343.1" y="807" font-size="11.5" fill="#1a1a1a">OS from enrollment (months)</text><text x="292.8" y="622" font-size="16.5" font-weight="bold" fill="#111">H</text></g>
<text transform="translate(40.8 17.3) scale(1.0 1.1)" font-size="13.55" fill="#1a1a1a">Previously untreated (N=198)</text>
<text transform="translate(328.4 17.3) scale(1.012 1.1)" font-size="13.55" fill="#1a1a1a">Previously untreated (N=198)</text>
</svg></body></html>
